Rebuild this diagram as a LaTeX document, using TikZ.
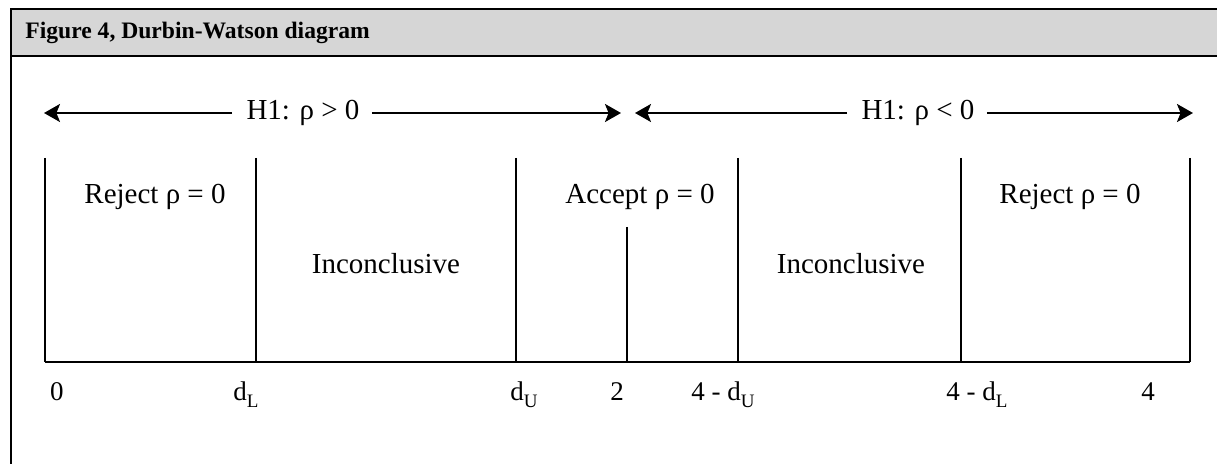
\documentclass[tikz,border=0pt]{standalone}
\usepackage{fontspec}
\setmainfont{Liberation Serif}
\usetikzlibrary{arrows.meta}
\newcommand\dwsub[1]{\raisebox{-0.5ex}{\fontsize{9.5}{10}\selectfont #1}}
\tikzset{
  frameline/.style={line width=1pt, black},
  dwline/.style={line width=1.1pt, black},
  axisline/.style={line width=1.4pt, black},
  dwarrow/.style={line width=1.1pt, -{Stealth[length=8pt,width=9pt,inset=1.8pt]}},
  region/.style={font=\fontsize{14.5}{16}\selectfont, inner sep=0pt},
  hyp/.style={font=\fontsize{14.5}{16}\selectfont, inner sep=0pt},
  tick/.style={font=\fontsize{13.5}{15}\selectfont, inner sep=0pt, anchor=base},
  header/.style={font=\bfseries\fontsize{11.8}{13}\selectfont, anchor=base west, inner sep=0pt}
}
\begin{document}
\begin{tikzpicture}[x=0.5pt, y=-0.5pt]
\useasboundingbox (0,0) rectangle (1217,464);
% frame and header
\fill[gray!32] (11,9) rectangle (1217,56);
\draw[frameline] (1217,9) -- (11,9) -- (11,464);
\draw[frameline] (11,56) -- (1217,56);
\node[header] (title) at (25,39) {Figure 4, Durbin-Watson diagram};
% hypothesis arrows
\coordinate (a1l) at (44,113);
\coordinate (a1r) at (621,113);
\coordinate (a2l) at (635,113);
\coordinate (a2r) at (1193,113);
\node[hyp] (h1) at (303,113) {H1: ρ > 0};
\node[hyp] (h2) at (918,113) {H1: ρ < 0};
\draw[dwarrow] ([xshift=-7pt]h1.west) -- (a1l);
\draw[dwarrow] ([xshift=6pt]h1.east) -- (a1r);
\draw[dwarrow] ([xshift=-7pt]h2.west) -- (a2l);
\draw[dwarrow] ([xshift=6pt]h2.east) -- (a2r);
% axis and partitions
\coordinate (b0) at (45,362);
\coordinate (b1) at (256,362);
\coordinate (b2) at (516,362);
\coordinate (b3) at (627,362);
\coordinate (b4) at (738,362);
\coordinate (b5) at (961,362);
\coordinate (b6) at (1190,362);
\coordinate (t0) at (45,158);
\coordinate (t1) at (256,158);
\coordinate (t2) at (516,158);
\coordinate (t3) at (627,227);
\coordinate (t4) at (738,158);
\coordinate (t5) at (961,158);
\coordinate (t6) at (1190,158);
\foreach \i in {0,...,6} { \draw[dwline] (t\i) -- (b\i); }
\draw[axisline] (b0) -- (b6);
% region labels
\node[region] (r1) at (155,197) {Reject ρ = 0};
\node[region] (r2) at (386,264) {Inconclusive};
\node[region] (r3) at (640,197) {Accept ρ = 0};
\node[region] (r4) at (851,264) {Inconclusive};
\node[region] (r5) at (1070,197) {Reject ρ = 0};
% tick labels
\node[tick] (l0) at (57,401) {0};
\node[tick] (l1) at (246,401) {d\dwsub{L}};
\node[tick] (l2) at (524,401) {d\dwsub{U}};
\node[tick] (l3) at (617,401) {2};
\node[tick] (l4) at (723,401) {4 - d\dwsub{U}};
\node[tick] (l5) at (977,401) {4 - d\dwsub{L}};
\node[tick] (l6) at (1148,401) {4};
\end{tikzpicture}
\end{document}
